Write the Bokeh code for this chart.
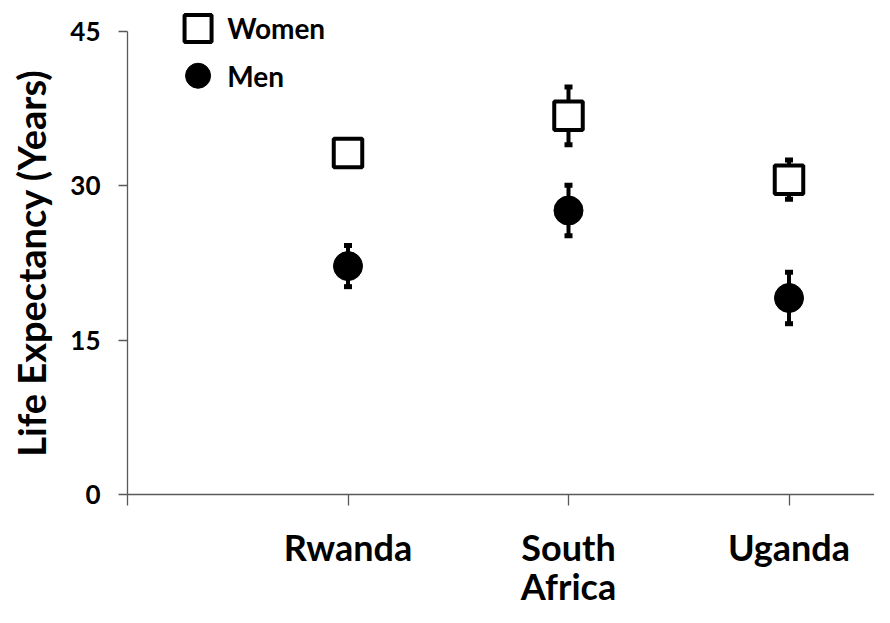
import math
from bokeh.plotting import figure
from bokeh.models import Range1d, FixedTicker, Whisker, ColumnDataSource, TeeHead, Label
from bokeh.core.properties import value
from bokeh.embed import file_html
from bokeh.resources import INLINE

# ---- data ----
countries = ["Rwanda", "South\nAfrica", "Uganda"]
positions = [1, 2, 3]
women = [33.2, 36.8, 30.6]
women_err = [1.0, 2.8, 1.9]
men = [22.2, 27.6, 19.1]
men_err = [2.0, 2.45, 2.5]
y_ticks = [0, 15, 30, 45]
legend_labels = ["Women", "Men"]
y_title = "Life Expectancy (Years)"

FONT = "Lato"
AXIS_COLOR = "#595959"
W, H = 874, 607
X0_PX, Y0_PX = 127, 494          # where the axes cross (pixels)
PX_PER_X, PX_PER_Y = 220.5, 463 / 45

p = figure(width=W, height=H, output_backend="svg", toolbar_location=None,
           x_range=Range1d(-X0_PX / PX_PER_X, (W - X0_PX) / PX_PER_X),
           y_range=Range1d(-(H - Y0_PX) / PX_PER_Y, Y0_PX / PX_PER_Y),
           min_border=0, min_border_left=0, min_border_right=0,
           min_border_top=0, min_border_bottom=0)
p.outline_line_color = None
p.grid.visible = False
p.background_fill_color = "white"

# y axis
p.yaxis.fixed_location = 0
p.yaxis.ticker = FixedTicker(ticks=y_ticks)
p.yaxis.bounds = (0, 45)
p.yaxis.axis_line_color = AXIS_COLOR
p.yaxis.axis_line_width = 1.3
p.yaxis.major_tick_line_color = AXIS_COLOR
p.yaxis.major_tick_line_width = 1.3
p.yaxis.major_tick_out = 9
p.yaxis.major_tick_in = 0
p.yaxis.minor_tick_line_color = None
p.yaxis.major_label_text_font = FONT
p.yaxis.major_label_text_font_style = "bold"
p.yaxis.major_label_text_font_size = "26px"
p.yaxis.major_label_text_color = "black"
p.yaxis.major_label_standoff = 18

# y title
p.add_layout(Label(x=(30 - X0_PX) / PX_PER_X, y=22.5, text=y_title, angle=math.pi / 2,
                   text_font=FONT, text_font_style="bold", text_font_size="38px",
                   text_color="black", text_align="center", text_baseline="middle"))

# x axis
p.xaxis.fixed_location = 0
p.xaxis.ticker = FixedTicker(ticks=[0] + positions)
p.xaxis.bounds = (0, (W - X0_PX) / PX_PER_X)
p.xaxis.major_label_overrides = {0: "", **{pos: c for pos, c in zip(positions, countries)}}
p.xaxis.axis_line_color = AXIS_COLOR
p.xaxis.axis_line_width = 1.3
p.xaxis.major_tick_line_color = AXIS_COLOR
p.xaxis.major_tick_line_width = 1.3
p.xaxis.major_tick_out = 11
p.xaxis.major_tick_in = 0
p.xaxis.minor_tick_line_color = None
p.xaxis.major_label_text_font = FONT
p.xaxis.major_label_text_font_style = "bold"
p.xaxis.major_label_text_font_size = "36px"
p.xaxis.major_label_text_color = "black"
p.xaxis.major_label_text_line_height = 0.9
p.xaxis.major_label_standoff = 19

# error bars
def add_err(vals, errs):
    src = ColumnDataSource(dict(x=positions,
                                upper=[v + e for v, e in zip(vals, errs)],
                                lower=[v - e for v, e in zip(vals, errs)]))
    w = Whisker(base="x", upper="upper", lower="lower", source=src,
                dimension="height", line_width=4, line_color="black", level="underlay",
                upper_head=TeeHead(size=8, line_width=5, line_color="black"),
                lower_head=TeeHead(size=8, line_width=5, line_color="black"))
    p.add_layout(w)

add_err(women, women_err)
add_err(men, men_err)

p.scatter(positions, women, marker="square", size=28.5, fill_color="white",
          line_color="black", line_width=4)
p.scatter(positions, men, marker="circle", size=29, fill_color="black",
          line_color="black", line_width=1)

# legend (drawn manually so the markers keep the chart's size)
LEG_X = 0.32
LEG_TX = 0.452
LEG_Y = [45.3, 40.7]
p.scatter([LEG_X], [LEG_Y[0]], marker="square", size=27, fill_color="white",
          line_color="black", line_width=4)
p.scatter([LEG_X], [LEG_Y[1]], marker="circle", size=25, fill_color="black",
          line_color="black", line_width=1)
p.text(x=[LEG_TX, LEG_TX], y=LEG_Y, text=legend_labels, text_font=value(FONT),
       text_font_style="bold", text_font_size="28px", text_baseline="middle",
       text_color="black")

open("out.html", "w").write(file_html(p, INLINE))
